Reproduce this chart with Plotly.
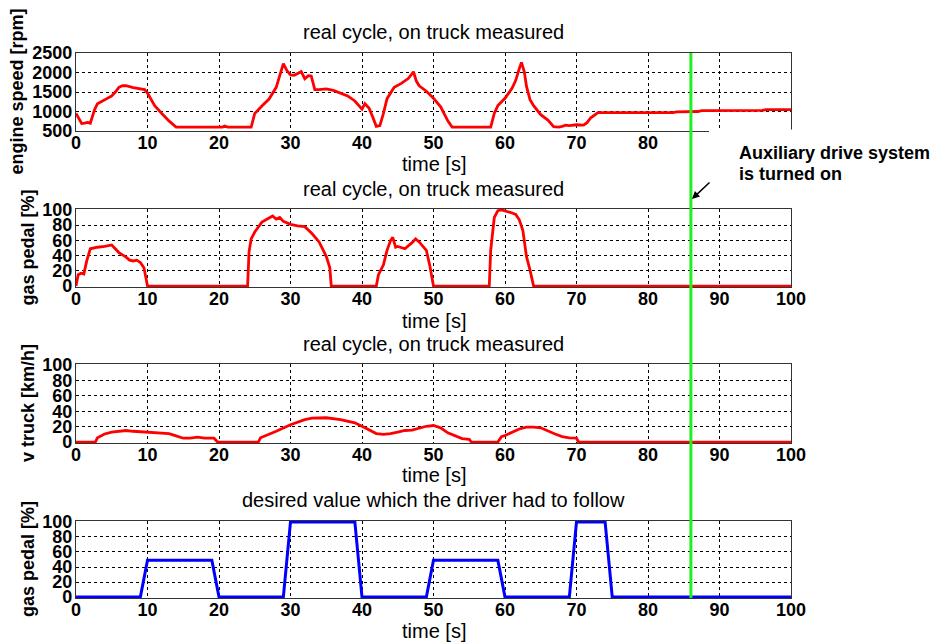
import plotly.graph_objects as go
from plotly.subplots import make_subplots

# ---------------- data ----------------
t_rpm = [0, 0.5, 0.8, 1.2, 1.6, 2.0, 2.3, 2.6, 3, 4, 5, 5.5, 6, 6.5, 7, 8, 9, 9.6, 10, 11, 12, 13, 14,
         20.5, 20.8, 21.2, 24.5, 25, 26, 27, 28, 28.5, 29, 29.5, 30, 30.5, 31, 31.5, 32, 32.5, 32.9, 33.4,
         34, 35, 36, 37, 38, 39, 40, 40.4, 41, 41.5, 42, 42.5, 43, 43.5, 44.5, 45.5, 46.5, 47.2, 47.6, 48,
         49, 50, 51, 52, 52.6, 58, 58.5, 59, 60, 61, 61.5, 62, 62.3, 62.7, 63, 63.5, 64, 65, 66, 66.8,
         67.5, 68, 68.5, 69, 70, 71, 71.5, 72, 73, 83.5, 84, 87, 87.5, 96, 96.5, 100]
rpm = [950, 780, 690, 700, 720, 700, 900, 1050, 1200, 1300, 1400, 1500, 1620, 1660, 1660, 1610, 1570, 1560, 1470, 1150, 950, 760, 600,
       600, 630, 600, 600, 950, 1140, 1320, 1620, 1900, 2230, 2050, 1940, 1930, 1970, 2020, 1840, 1920, 1910, 1560,
       1560, 1580, 1540, 1480, 1400, 1270, 1060, 1200, 1080, 860, 620, 640, 950, 1330, 1620, 1720, 1850, 2020, 1780, 1660,
       1520, 1340, 1120, 760, 600, 600, 950, 1150, 1340, 1600, 1800, 2100, 2260, 2020, 1650, 1300, 1150, 920, 780, 610,
       600, 620, 650, 640, 660, 650, 720, 840, 970, 970, 990, 1000, 1020, 1030, 1050, 1050]

t_pedal = [0, 0.3, 0.7, 1.1, 1.5, 2, 3, 4, 5, 5.5, 6, 7, 7.5, 8, 8.5, 9, 9.5, 9.8, 10, 24, 24.2, 24.5, 25, 26, 27,
           27.5, 28, 28.5, 29, 30, 31, 32, 33, 34, 35, 35.5, 35.7, 42, 42.3, 43, 43.5, 44, 44.3, 44.7, 45, 46,
           47, 47.5, 48, 49, 49.5, 50, 57.8, 58, 58.5, 59, 59.5, 60, 60.5, 61, 61.5, 62, 62.5, 63, 63.5, 64, 100]
pedal = [0, 15, 17, 16, 33, 49, 51, 52, 54, 49, 44, 38, 34, 33, 34, 31, 24, 10, 0, 0, 45, 62, 71, 84, 89,
         92, 88, 90, 85, 81, 79, 78, 69, 58, 39, 24, 0, 0, 15, 28, 47, 60, 64, 51, 52, 49,
         57, 62, 58, 47, 26, 0, 0, 47, 90, 99, 100, 99, 97, 96, 94, 87, 73, 39, 21, 0, 0]

t_speed = [0, 2.7, 3, 4, 5, 6, 7, 8, 10, 12, 13, 14, 15, 16, 17, 18, 19.3, 19.8, 25.5, 25.8, 27, 28, 30, 32, 33,
           35, 37, 39, 40, 41, 42, 43, 44, 45, 46, 47, 48, 49, 50, 51, 52, 53, 54, 55, 55.3, 59, 59.5, 60,
           61, 62, 63, 64, 65, 66, 67, 68, 69, 70, 70.3, 100]
speed = [0, 0, 5.5, 10.5, 13, 14, 15, 14, 13, 12, 11, 8, 5, 5, 6.5, 5, 5, 0, 0, 5.5, 10, 14, 22.5, 29, 31,
         31.5, 29, 25, 20.5, 15.5, 11, 10, 11, 13, 15, 15.5, 18, 20.5, 21.5, 18.5, 12, 8, 4.5, 3.5, 0, 0, 7, 8.5,
         13, 17, 19.5, 19.5, 18.5, 14, 10.5, 7, 5.5, 5, 0, 0]

t_desired = [0, 9, 10, 19, 20, 29, 30, 39, 40, 49, 50, 59, 60, 69, 70, 74, 75, 100]
desired = [0, 0, 49, 49, 0, 0, 100, 100, 0, 0, 49, 49, 0, 0, 100, 100, 0, 0]

t_aux_on = 86
x_ticks = [0, 10, 20, 30, 40, 50, 60, 70, 80, 90, 100]
x_ticktext_top = ["0", "10", "20", "30", "40", "50", "60", "70", "80", "", ""]  # 90/100 hidden behind the note
rpm_ticks = [500, 1000, 1500, 2000, 2500]
pct_ticks = [0, 20, 40, 60, 80, 100]

titles = ["real cycle, on truck measured", "real cycle, on truck measured",
          "real cycle, on truck measured", "desired value which the driver had to follow"]
ylabels = ["engine speed [rpm]", "gas pedal [%]", "v truck [km/h]", "gas pedal [%]"]
xlabel = "time [s]"

# ---------------- layout helpers ----------------
W, H = 933, 644
L, R, T, B = 76, 791, 53, 598


def py(p):
    return (B - p) / (B - T)


def px(p):
    return (p - L) / (R - L)


FONT = "Arial, Liberation Sans, Helvetica, sans-serif"

fig = make_subplots(rows=4, cols=1)
fig.add_trace(go.Scatter(x=t_rpm, y=rpm, mode="lines", line=dict(color="#ff0000", width=2.8)), row=1, col=1)
fig.add_trace(go.Scatter(x=t_pedal, y=pedal, mode="lines", line=dict(color="#ff0000", width=2.8)), row=2, col=1)
fig.add_trace(go.Scatter(x=t_speed, y=speed, mode="lines", line=dict(color="#ff0000", width=2.8)), row=3, col=1)
fig.add_trace(go.Scatter(x=t_desired, y=desired, mode="lines", line=dict(color="#0000ff", width=3)), row=4, col=1)

plot_px = [(53, 131), (209, 287), (364, 443), (521, 598)]
ylab_x = [16.5, 27.5, 27.5, 27.5]
title_y = [32, 189, 344, 500]
xlab_y = [164, 321, 475, 631]

axis_common = dict(showline=True, mirror=True, linecolor="#333333", linewidth=1.2,
                   showgrid=True, gridcolor="#000000", gridwidth=1, griddash="3px,3px",
                   ticks="", zeroline=False,
                   tickfont=dict(family=FONT, size=18, color="#000000", weight="bold"))

for i in range(4):
    top, bot = plot_px[i]
    n = "" if i == 0 else str(i + 1)
    ttext = x_ticktext_top if i == 0 else [str(v) for v in x_ticks]
    fig.layout["xaxis" + n].update(domain=[0, 1], range=[0, 100], tickvals=x_ticks, ticktext=ttext,
                                   ticklabelstandoff=-5, **axis_common)
    if i == 0:
        fig.layout["yaxis" + n].update(domain=[py(bot), py(top)], range=[500, 2500], tickvals=rpm_ticks,
                                       ticklabelstandoff=-1, **axis_common)
    else:
        fig.layout["yaxis" + n].update(domain=[py(bot), py(top)], range=[-1.2, 101.2], tickvals=pct_ticks,
                                       ticklabelstandoff=-1, **axis_common)

annotations = []
for i in range(4):
    top, bot = plot_px[i]
    annotations.append(dict(text=titles[i], x=0.5, y=py(title_y[i]), xref="paper", yref="paper",
                            xanchor="center", yanchor="middle", showarrow=False,
                            font=dict(family=FONT, size=20, color="#000000")))
    annotations.append(dict(text=xlabel, x=0.5, y=py(xlab_y[i]), xref="paper", yref="paper",
                            xanchor="center", yanchor="middle", showarrow=False,
                            font=dict(family=FONT, size=20, color="#000000")))
    annotations.append(dict(text="<b>" + ylabels[i] + "</b>", x=px(ylab_x[i]), y=py((top + bot) / 2),
                            xref="paper", yref="paper", xanchor="center", yanchor="middle",
                            textangle=-90, showarrow=False,
                            font=dict(family=FONT, size=18, color="#000000")))

annotations.append(dict(text="<b>Auxiliary drive system</b>", x=px(737), y=py(153), xref="paper", yref="paper",
                        xanchor="left", yanchor="middle", showarrow=False,
                        font=dict(family=FONT, size=18, color="#000000")))
annotations.append(dict(text="<b>is turned on</b>", x=px(737), y=py(174), xref="paper", yref="paper",
                        xanchor="left", yanchor="middle", showarrow=False,
                        font=dict(family=FONT, size=18, color="#000000")))
annotations.append(dict(text="", x=px(692), y=py(199), xref="paper", yref="paper",
                        ax=19, ay=-18, axref="pixel", ayref="pixel", showarrow=True,
                        arrowhead=2, arrowsize=1, arrowwidth=1.5, arrowcolor="#000000"))

shapes = [
    # white panel behind the annotation, hiding the end of the top plot's bottom axis
    dict(type="rect", xref="paper", yref="paper", x0=px(709), x1=px(940), y0=py(162), y1=py(129.5),
         fillcolor="#ffffff", line=dict(width=0), layer="above"),
    # green vertical marker
    dict(type="line", xref="x", yref="paper", x0=t_aux_on, x1=t_aux_on, y0=0, y1=1,
         line=dict(color="#22ee22", width=3), layer="above"),
]

fig.update_layout(width=W, height=H, margin=dict(l=L, r=W - R, t=T, b=H - B),
                  paper_bgcolor="#ffffff", plot_bgcolor="#ffffff", showlegend=False,
                  annotations=annotations, shapes=shapes,
                  font=dict(family=FONT, color="#000000"))

fig.write_html("out.html")
